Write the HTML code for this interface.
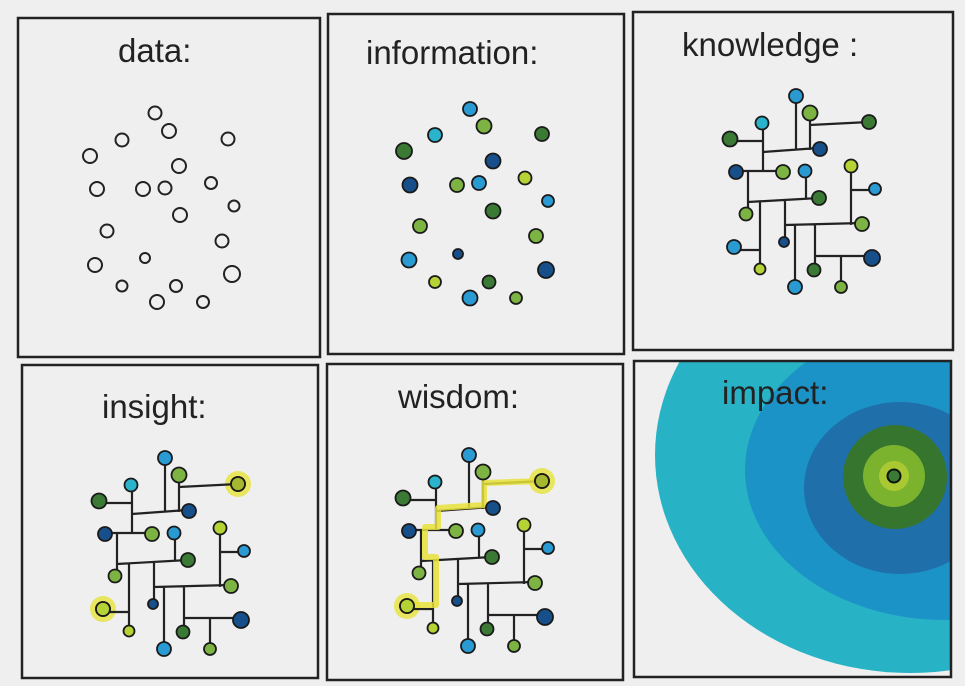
<!DOCTYPE html>
<html><head><meta charset="utf-8"><style>
html,body{margin:0;padding:0;background:#efefef;}
svg{display:block}
text{font-family:"Liberation Sans",sans-serif;font-size:33px;fill:#222;}
</style></head><body>
<svg width="965" height="686" viewBox="0 0 965 686" xmlns="http://www.w3.org/2000/svg">
<defs>
<clipPath id="c6"><rect x="634" y="362" width="317" height="314"/></clipPath>
<g id="lines" stroke="#222" stroke-width="2.2" fill="none">
<path d="M796 96V150M763 152L818 148M810 113V150M810 125L869 122M763 123V172M730 141H763M736 171H783M748 171V214M806 171V198M748 202L819 198M760 202V269M734 250H760M785 200V242M785 225L862 223M851 166V225M851 190H875M795 225V287M815 224V270M815 256H872M841 256V287"/>
</g>
<g id="nodes" stroke="#1a1a1a" stroke-width="1.8">
<circle cx="796" cy="96" r="7" fill="#2a9ad3"/>
<circle cx="810" cy="113" r="7.5" fill="#7cb342"/>
<circle cx="869" cy="122" r="7" fill="#3a7a35"/>
<circle cx="762" cy="123" r="6.5" fill="#2bb3cc"/>
<circle cx="730" cy="139" r="7.5" fill="#3a7a35"/>
<circle cx="820" cy="149" r="7" fill="#164f8a"/>
<circle cx="736" cy="172" r="7" fill="#164f8a"/>
<circle cx="783" cy="172" r="7" fill="#7cb342"/>
<circle cx="805" cy="171" r="6.5" fill="#2a9ad3"/>
<circle cx="851" cy="166" r="6.5" fill="#b5d334"/>
<circle cx="875" cy="189" r="6" fill="#2a9ad3"/>
<circle cx="819" cy="198" r="7" fill="#3a7a35"/>
<circle cx="746" cy="214" r="6.5" fill="#7cb342"/>
<circle cx="862" cy="224" r="7" fill="#7cb342"/>
<circle cx="734" cy="247" r="7" fill="#2a9ad3"/>
<circle cx="784" cy="242" r="5" fill="#164f8a"/>
<circle cx="872" cy="258" r="8" fill="#164f8a"/>
<circle cx="760" cy="269" r="5.5" fill="#b5d334"/>
<circle cx="814" cy="270" r="6.5" fill="#3a7a35"/>
<circle cx="795" cy="287" r="7" fill="#2a9ad3"/>
<circle cx="841" cy="287" r="6" fill="#7cb342"/>
</g>
</defs>

<g fill="none" stroke="#222" stroke-width="2.5">
<rect x="18" y="18" width="302" height="339"/>
<rect x="328" y="14" width="296" height="340"/>
<rect x="633" y="12" width="320" height="338"/>
<rect x="22" y="365" width="296" height="313"/>
<rect x="327" y="364" width="296" height="316"/>
</g>

<g clip-path="url(#c6)">
<ellipse cx="910" cy="455" rx="255" ry="218" fill="#27b3c5"/>
<ellipse cx="945" cy="470" rx="200" ry="150" fill="#1b93c7"/>
<ellipse cx="900" cy="488" rx="96" ry="86" fill="#1f6faa"/>
<circle cx="895" cy="477" r="52" fill="#36752e"/>
<circle cx="894" cy="476" r="31" fill="#7bb32e"/>
<circle cx="894" cy="476" r="15" fill="#a9c932"/>
<circle cx="894" cy="476" r="6.5" fill="#3a7a35" stroke="#111" stroke-width="2"/>
</g>
<rect x="634" y="361" width="317" height="316" fill="none" stroke="#222" stroke-width="2.5"/>

<text x="118" y="62">data:</text>
<text x="366" y="64">information:</text>
<text x="682" y="56">knowledge :</text>
<text x="102" y="418">insight:</text>
<text x="398" y="408">wisdom:</text>
<text x="722" y="404">impact:</text>

<g fill="none" stroke="#222" stroke-width="2">
<circle cx="155" cy="113" r="6.5"/><circle cx="169" cy="131" r="7"/><circle cx="122" cy="140" r="6.5"/>
<circle cx="228" cy="139" r="6.5"/><circle cx="90" cy="156" r="7"/><circle cx="179" cy="166" r="7"/>
<circle cx="97" cy="189" r="7"/><circle cx="143" cy="189" r="7"/><circle cx="165" cy="188" r="6.5"/>
<circle cx="211" cy="183" r="6"/><circle cx="234" cy="206" r="5.5"/><circle cx="180" cy="215" r="7"/>
<circle cx="107" cy="231" r="6.5"/><circle cx="222" cy="241" r="6.5"/><circle cx="95" cy="265" r="7"/>
<circle cx="145" cy="258" r="5"/><circle cx="232" cy="274" r="8"/><circle cx="122" cy="286" r="5.5"/>
<circle cx="176" cy="286" r="6"/><circle cx="157" cy="302" r="7"/><circle cx="203" cy="302" r="6"/>
</g>

<g stroke="#1a1a1a" stroke-width="1.8">
<circle cx="470" cy="109" r="7" fill="#2a9ad3"/><circle cx="484" cy="126" r="7.5" fill="#7cb342"/>
<circle cx="435" cy="135" r="7" fill="#2bb3cc"/><circle cx="542" cy="134" r="7" fill="#3a7a35"/>
<circle cx="404" cy="151" r="8" fill="#3a7a35"/><circle cx="493" cy="161" r="7.5" fill="#164f8a"/>
<circle cx="410" cy="185" r="7.5" fill="#164f8a"/><circle cx="457" cy="185" r="7" fill="#7cb342"/>
<circle cx="479" cy="183" r="7" fill="#2a9ad3"/><circle cx="525" cy="178" r="6.5" fill="#b5d334"/>
<circle cx="548" cy="201" r="6" fill="#2a9ad3"/><circle cx="493" cy="211" r="7.5" fill="#3a7a35"/>
<circle cx="420" cy="226" r="7" fill="#7cb342"/><circle cx="536" cy="236" r="7" fill="#7cb342"/>
<circle cx="409" cy="260" r="7.5" fill="#2a9ad3"/><circle cx="458" cy="254" r="5" fill="#164f8a"/>
<circle cx="546" cy="270" r="8" fill="#164f8a"/><circle cx="435" cy="282" r="6" fill="#b5d334"/>
<circle cx="489" cy="282" r="6.5" fill="#3a7a35"/><circle cx="470" cy="298" r="7.5" fill="#2a9ad3"/>
<circle cx="516" cy="298" r="6" fill="#7cb342"/>
</g>

<use href="#lines"/><use href="#nodes"/>

<!-- insight -->
<circle cx="238" cy="484" r="13" fill="#e6e23a" opacity="0.8"/>
<circle cx="103" cy="609" r="13" fill="#e6e23a" opacity="0.8"/>
<use href="#lines" transform="translate(-631,362)"/>
<use href="#nodes" transform="translate(-631,362)"/>
<circle cx="238" cy="484" r="7" fill="#a6b82f" stroke="#1a1a1a" stroke-width="1.8"/>
<circle cx="103" cy="609" r="7" fill="#b5d334" stroke="#1a1a1a" stroke-width="1.8"/>

<!-- wisdom -->
<circle cx="542" cy="481" r="13" fill="#e6e23a" opacity="0.8"/>
<circle cx="407" cy="606" r="13" fill="#e6e23a" opacity="0.8"/>
<use href="#lines" transform="translate(-327,359)"/>
<path d="M407 605H436V557H425V527H438V508L484 505V483L542 481" fill="none" stroke="#e6e23a" stroke-width="6" stroke-linejoin="round" opacity="0.85"/>
<use href="#nodes" transform="translate(-327,359)"/>
<circle cx="542" cy="481" r="7" fill="#a6b82f" stroke="#1a1a1a" stroke-width="1.8"/>
<circle cx="407" cy="606" r="7" fill="#b5d334" stroke="#1a1a1a" stroke-width="1.8"/>
</svg>
</body></html>
